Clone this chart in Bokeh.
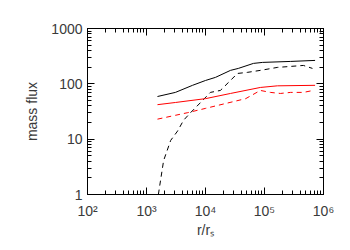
from bokeh.plotting import figure
from bokeh.models import LogAxis, FixedTicker, Range1d
from bokeh.embed import file_html
from bokeh.resources import INLINE

# ---- data ----
black_solid_x = [1535, 3090, 6030, 1.0e4, 1.48e4, 2.65e4, 3.6e4, 6.5e4, 9.3e4, 2.77e5, 7.2e5]
black_solid_y = [59, 70, 94, 115, 131, 175, 190, 234, 244, 254, 265]

black_dash_x = [1590, 1730, 1950, 2570, 3360, 4250, 5560, 8260, 1.21e4, 1.79e4, 2.65e4,
                3.47e4, 5.1e4, 8.5e4, 1.65e5, 4.56e5, 6.5e5]
black_dash_y = [1.0, 1.8, 4.1, 9.5, 14, 22, 30, 46, 70, 76, 115, 154, 161, 175, 198, 215, 190]

red_solid_x = [1535, 3090, 1.0e4, 2.65e4, 8.5e4, 1.65e5, 7.2e5]
red_solid_y = [42, 46, 54, 67, 86, 92, 94]

red_dash_x = [1535, 3090, 4900, 1.0e4, 2.17e4, 4.8e4, 8.5e4, 1.26e5, 1.86e5, 2.77e5, 4.56e5, 6.7e5]
red_dash_y = [23, 27, 30, 36, 44, 54, 76, 70, 67, 70, 70, 76]

x_decades = [2, 3, 4, 5, 6]
y_decades = [0, 1, 2, 3]
x_tick_labels = ["10²", "10³", "10⁴", "10⁵", "10⁶"]
y_tick_labels = ["1", "10", "100", "1000"]

FONT = "Liberation Sans"
TXT = "#3a3a3a"
FS = "14px"

W, H = 342, 242
LEFT, RIGHT, TOP, BOTTOM = 87, 19, 28, 48

x_major = [10.0 ** d for d in x_decades]
y_major = [10.0 ** d for d in y_decades]
x_minor = [m * 10.0 ** d for d in x_decades[:-1] for m in range(2, 10)]
y_minor = [m * 10.0 ** d for d in y_decades[:-1] for m in range(2, 10)]

p = figure(width=W, height=H, x_axis_type="log", y_axis_type="log",
           x_range=Range1d(x_major[0], x_major[-1]), y_range=Range1d(y_major[0], y_major[-1]),
           output_backend="svg", toolbar_location=None,
           min_border_left=LEFT, min_border_right=RIGHT, min_border_top=TOP, min_border_bottom=BOTTOM)
p.grid.visible = False
p.outline_line_color = "black"
p.background_fill_color = "white"
p.border_fill_color = "white"

p.line(black_solid_x, black_solid_y, line_color="black", line_width=1)
p.line(black_dash_x, black_dash_y, line_color="black", line_width=1, line_dash="5 4")
p.line(red_solid_x, red_solid_y, line_color="red", line_width=1)
p.line(red_dash_x, red_dash_y, line_color="red", line_width=1, line_dash="5 4")


def style(ax, ticker, labels=None, ticks=None):
    ax.ticker = ticker
    ax.axis_line_color = "black"
    ax.axis_line_width = 1
    ax.major_tick_line_color = "black"
    ax.minor_tick_line_color = "black"
    ax.major_tick_line_width = 1
    ax.minor_tick_line_width = 1
    ax.major_tick_in = 7
    ax.major_tick_out = 0
    ax.minor_tick_in = 4
    ax.minor_tick_out = 0
    ax.major_label_text_font = FONT
    ax.major_label_text_font_size = FS
    ax.major_label_text_color = TXT
    ax.axis_label_text_font = FONT
    ax.axis_label_text_font_size = FS
    ax.axis_label_text_font_style = "normal"
    ax.axis_label_text_color = TXT
    if labels is not None:
        ax.major_label_overrides = dict(zip(ticks, labels))
    else:
        ax.major_label_text_font_size = "0px"
        ax.major_label_text_color = None


xa = p.xaxis[0]
style(xa, FixedTicker(ticks=x_major, minor_ticks=x_minor), x_tick_labels, x_major)
xa.axis_label = "r/rₛ"
xa.major_label_standoff = 8
xa.axis_label_standoff = 0

ya = p.yaxis[0]
style(ya, FixedTicker(ticks=y_major, minor_ticks=y_minor), y_tick_labels, y_major)
ya.axis_label = "mass flux"
ya.major_label_standoff = 5
ya.axis_label_standoff = 8
ya.major_label_orientation = "horizontal"

top = LogAxis()
style(top, FixedTicker(ticks=x_major, minor_ticks=x_minor))
p.add_layout(top, "above")
right = LogAxis()
style(right, FixedTicker(ticks=y_major, minor_ticks=y_minor))
p.add_layout(right, "right")

for ax in (xa, ya, top, right):
    ax.level = "overlay"

open("out.html", "w").write(file_html(p, INLINE))
